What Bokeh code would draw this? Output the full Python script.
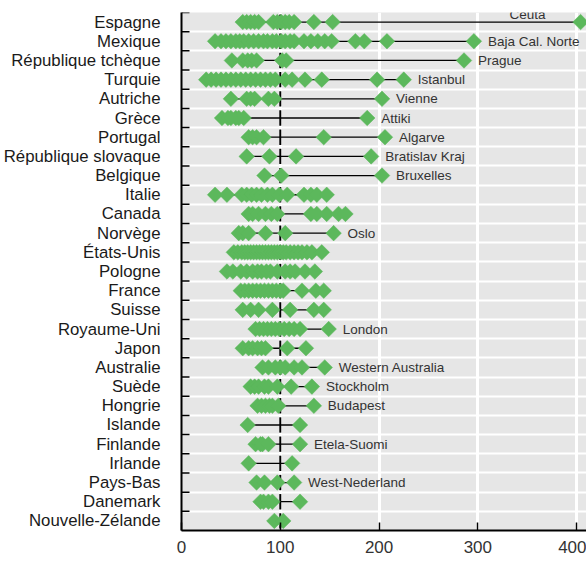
import math
from bokeh.plotting import figure
from bokeh.models import Range1d, FixedTicker, ColumnDataSource, Label
from bokeh.core.properties import value
from bokeh.embed import file_html
from bokeh.resources import INLINE

countries = ["Espagne", "Mexique", "République tchèque", "Turquie", "Autriche", "Grèce",
             "Portugal", "République slovaque", "Belgique", "Italie", "Canada", "Norvège",
             "États-Unis", "Pologne", "France", "Suisse", "Royaume-Uni", "Japon", "Australie",
             "Suède", "Hongrie", "Islande", "Finlande", "Irlande", "Pays-Bas", "Danemark",
             "Nouvelle-Zélande"]

espagne = [62, 66, 70, 74, 78, 93, 97, 101, 105, 109, 114, 134, 153, 404]
mexique = [34, 40, 45, 50, 55, 59, 63, 68, 73, 78, 83, 87, 92, 96, 101, 105, 110, 114,
           124, 131, 138, 145, 152, 176, 185, 208, 296]
tcheque = [51, 62, 67, 71, 76, 102, 106, 286]
turquie = [25, 30, 35, 40, 45, 50, 55, 60, 65, 70, 75, 80, 85, 90, 95, 105, 112, 125,
           142, 198, 225]
autriche = [50, 66, 70, 74, 88, 94, 203]
grece = [41, 47, 50, 55, 58, 63, 188]
portugal = [68, 72, 76, 83, 144, 206]
slovaque = [66, 89, 116, 192]
belgique = [84, 101, 203]
italie = [34, 46, 61, 66, 71, 76, 81, 87, 92, 99, 107, 124, 131, 137, 147]
canada = [68, 72, 78, 85, 91, 97, 131, 137, 147, 159, 166]
norvege = [58, 62, 68, 85, 105, 154]
etats_unis = [53, 57, 61, 64, 67, 70, 73, 76, 79, 82, 85, 88, 91, 94, 97, 100, 103, 106,
              110, 114, 118, 122, 127, 132, 142]
pologne = [46, 52, 60, 66, 72, 77, 81, 86, 90, 97, 105, 110, 115, 125, 135]
france = [60, 64, 68, 72, 76, 80, 84, 88, 92, 96, 100, 103, 122, 136, 144]
suisse = [62, 70, 78, 92, 110, 134, 144]
royaume_uni = [75, 79, 83, 87, 91, 95, 99, 104, 109, 114, 120, 149]
japon = [62, 68, 72, 77, 81, 85, 107, 126]
australie = [82, 88, 95, 100, 105, 114, 122, 145]
suede = [70, 74, 78, 84, 88, 97, 111, 132]
hongrie = [77, 81, 85, 89, 92, 98, 134]
islande = [67, 120]
finlande = [75, 80, 82, 88, 120]
irlande = [68, 112]
pays_bas = [76, 84, 97, 114]
danemark = [80, 83, 88, 92, 120]
nz = [94, 103]

region_values = [espagne, mexique, tcheque, turquie, autriche, grece, portugal, slovaque,
                 belgique, italie, canada, norvege, etats_unis, pologne, france, suisse,
                 royaume_uni, japon, australie, suede, hongrie, islande, finlande, irlande,
                 pays_bas, danemark, nz]

top_region = ["Ceuta", "Baja Cal. Norte", "Prague", "Istanbul", "Vienne", "Attiki",
              "Algarve", "Bratislav Kraj", "Bruxelles", "", "", "Oslo", "", "", "", "",
              "London", "", "Western Australia", "Stockholm", "Budapest", "", "Etela-Suomi",
              "", "West-Nederland", "", ""]

national_avg = 100
x_ticks = [0, 100, 200, 300, 400]
x_max = 410

GREEN = "#5cb85c"
FONT = "Liberation Sans"

n = len(countries)
ypos = [n - 1 - i for i in range(n)]

p = figure(width=586, height=578, x_range=Range1d(0, x_max), y_range=Range1d(-0.5, n - 0.5),
           output_backend="svg", toolbar_location=None,
           min_border_left=181, min_border_right=0, min_border_top=12, min_border_bottom=48)
p.background_fill_color = "#e6e6e6"
p.border_fill_color = "white"
p.outline_line_color = None

# grids
p.xgrid.ticker = FixedTicker(ticks=x_ticks)
p.xgrid.grid_line_color = "white"
p.xgrid.grid_line_width = 3
p.ygrid.ticker = FixedTicker(ticks=[i + 0.5 for i in range(n - 1)])
p.ygrid.grid_line_color = "white"
p.ygrid.grid_line_width = 2

# x axis
p.xaxis.ticker = FixedTicker(ticks=x_ticks)
p.xaxis.major_tick_in = 8
p.xaxis.major_tick_out = 0
p.xaxis.major_tick_line_width = 1.5
p.xaxis.major_tick_line_color = "black"
p.xaxis.minor_tick_line_color = None
p.xaxis.axis_line_width = 2
p.xaxis.axis_line_color = "black"
p.xaxis.major_label_text_font = FONT
p.xaxis.major_label_text_font_size = "17px"
p.xaxis.major_label_text_color = "#333333"
p.xaxis.major_label_standoff = 10

# y axis
p.yaxis.ticker = FixedTicker(ticks=ypos)
p.yaxis.major_label_overrides = {y: c for y, c in zip(ypos, countries)}
p.yaxis.major_tick_line_color = None
p.yaxis.minor_tick_line_color = None
p.yaxis.axis_line_width = 2
p.yaxis.axis_line_color = "black"
p.yaxis.major_label_text_font = FONT
p.yaxis.major_label_text_font_size = "16.8px"
p.yaxis.major_label_text_color = "#1a1a1a"
p.yaxis.major_label_standoff = 15

# boundary ticks on the y axis (inward)
p.ray(x=[0] * n, y=[i + 0.5 for i in range(n)], length=8, length_units="screen", angle=0,
      line_color="black", line_width=1.5)

# national average line per row
p.segment(x0=[national_avg] * n, x1=[national_avg] * n,
          y0=[y - 0.4 for y in ypos], y1=[y + 0.4 for y in ypos],
          line_color="black", line_width=2)

# range lines
p.segment(x0=[min(v) for v in region_values], x1=[max(v) for v in region_values],
          y0=ypos, y1=ypos, line_color="black", line_width=1.3)

# diamonds
xs, ys = [], []
for y, vals in zip(ypos, region_values):
    for v in vals:
        xs.append(v)
        ys.append(y)
p.scatter(x=xs, y=ys, marker="square", angle=math.pi / 4, size=11,
          fill_color=GREEN, line_color=GREEN, line_width=0.5)

# region labels
right_src = dict(x=[], y=[], t=[])
for y, vals, name in zip(ypos, region_values, top_region):
    if not name:
        continue
    if max(vals) > 380:
        # label sits above-left of the far-right point
        p.add_layout(Label(x=max(vals), y=y + 0.42, x_offset=-35, text=name,
                           text_align="right", text_baseline="middle", text_font=FONT,
                           text_font_size="13.5px", text_color="#333333"))
    else:
        right_src["x"].append(max(vals))
        right_src["y"].append(y)
        right_src["t"].append(name)

p.text(x="x", y="y", text="t", source=ColumnDataSource(right_src), x_offset=14,
       text_baseline="middle", text_align="left", text_font=value(FONT),
       text_font_size="13.5px", text_color="#333333")

pct = Label(x=x_max, x_offset=-2, y=-2.2, text="%", text_align="right", text_baseline="top",
            text_font=FONT, text_font_size="14px", text_color="#333333")
p.add_layout(pct)

open("out.html", "w").write(file_html(p, INLINE))
